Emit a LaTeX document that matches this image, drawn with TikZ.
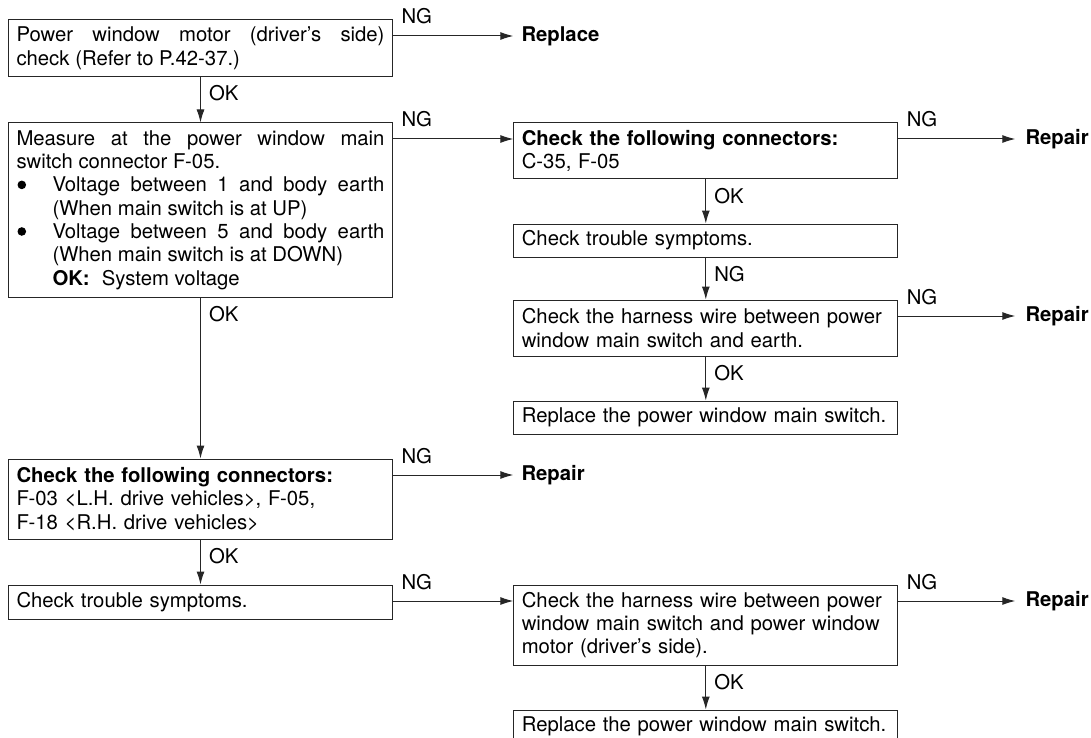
\documentclass[tikz,border=0pt]{standalone}
\usepackage{fontspec}
\setmainfont{TeX Gyre Heros}
\usetikzlibrary{positioning,arrows.meta,calc}
\newcommand{\fs}{\fontsize{20.3pt}{23.3pt}\selectfont}
\newcommand{\bul}{\makebox[36pt][l]{\hspace{1pt}\tikz[baseline=-7pt]\fill (0,0) circle (4.3pt);}}
\newcommand{\hdr}[1]{\makebox[338pt][s]{\textbf{#1}}}

\begin{document}
\begin{tikzpicture}[
  x=1pt, y=-1pt,
  font={\fs\parindent=0pt},
  box/.style={draw=black!85,line width=1pt,text width=368pt,inner xsep=8pt,inner ysep=0pt,align=left},
  lbl/.style={anchor=base west,inner sep=0pt},
  res/.style={anchor=west,inner ysep=0pt,font=\fs\bfseries},
  arr/.style={draw=black!85,line width=1pt,-{Latex[length=13pt,width=8pt]}},
  node distance=44pt,
]
  \useasboundingbox (0,0) rectangle (1091,738);

  % left column
  \node[box,align=justify,minimum height=56.5pt,anchor=north west] (motor) at (8,19.5)
    {Power window motor (driver’s side)\linebreak check (Refer to P.42-37.)};
  \node[box,align=justify,minimum height=174pt,below=45.5pt of motor] (measure)
    {Measure at the power window main\linebreak switch connector F-05.\par
     \hangindent=36pt\hangafter=1\bul Voltage between 1 and body earth\linebreak (When main switch is at UP)\par
     \hangindent=36pt\hangafter=1\bul Voltage between 5 and body earth\linebreak (When main switch is at DOWN)\par
     \hspace*{36pt}\textbf{OK:}\hspace{0.6em}System voltage};
  \node[box,minimum height=80pt,below=161pt of measure] (conn2)
    {\hdr{Check the following connectors:}\\F-03 <L.H. drive vehicles>, F-05,\\F-18 <R.H. drive vehicles>};
  \node[box,minimum height=34pt,below=45pt of conn2] (sym2) {Check trouble symptoms.};

  % right column
  \node[box,minimum height=56pt,anchor=north west] (conn1) at ([xshift=120.3pt]measure.north east)
    {\hdr{Check the following connectors:}\\C-35, F-05};
  \node[box,minimum height=33pt,below=of conn1] (sym1) {Check trouble symptoms.};
  \node[box,minimum height=56pt,below=42pt of sym1] (harn1)
    {Check the harness wire between power\\window main switch and earth.};
  \node[box,minimum height=33pt,below=of harn1] (swap1) {Replace the power window main switch.};
  \node[box,minimum height=80pt,anchor=north west] (harn2) at ([xshift=120.3pt]sym2.north east)
    {Check the harness wire between power\\window main switch and power window\\motor (driver’s side).};
  \node[box,minimum height=33pt,below=of harn2] (swap2) {Replace the power window main switch.};

  % results
  \node[res,inner xsep=8pt] (repl) at ([xshift=120.3pt,yshift=-16.5pt]motor.north east) {Replace};
  \node[res,inner xsep=8pt] (fix3) at ([xshift=120.3pt,yshift=-16.5pt]conn2.north east) {Repair};
  \node[res,inner xsep=10pt] (fix1) at ([xshift=117pt,yshift=-16.5pt]conn1.north east) {Repair};
  \node[res,inner xsep=10pt] (fix2) at ([xshift=117pt,yshift=-16.5pt]harn1.north east) {Repair};
  \node[res,inner xsep=10pt] (fix4) at ([xshift=117pt,yshift=-16.5pt]harn2.north east) {Repair};

  \foreach \a/\b/\t in {motor/measure/OK,measure/conn2/OK,conn2/sym2/OK,conn1/sym1/OK,
                        sym1/harn1/NG,harn1/swap1/OK,harn2/swap2/OK}
    { \draw[arr] (\a) -- node[lbl,pos=0,xshift=8pt,yshift=-24pt] {\t} (\b); }
  \foreach \a/\b in {motor/repl,measure/conn1,conn1/fix1,harn1/fix2,conn2/fix3,sym2/harn2,harn2/fix4}
    { \draw[arr] ([yshift=-16.5pt]\a.north east) coordinate (s)
        -- node[lbl,pos=0,xshift=8pt,yshift=12pt] {NG} (s -| \b.west); }
\end{tikzpicture}
\end{document}
